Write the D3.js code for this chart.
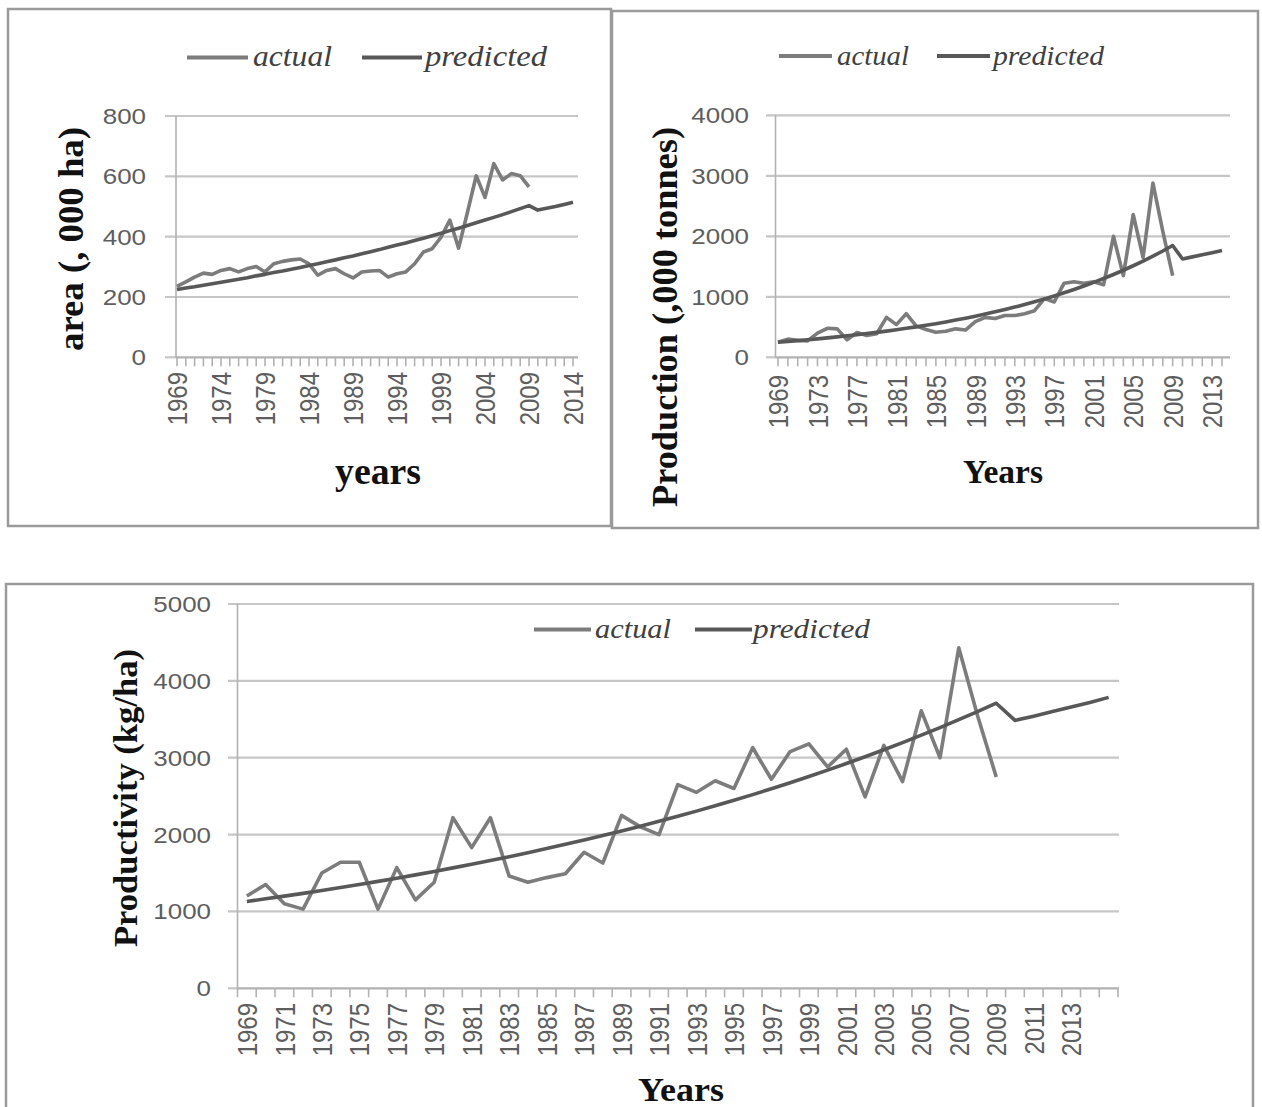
<!DOCTYPE html>
<html>
<head>
<meta charset="utf-8">
<script src="https://cdn.jsdelivr.net/npm/d3@7"></script>
<style>
  body { margin: 0; background: #fff; }
  svg { display: block; }
</style>
</head>
<body>
<svg id="chart" width="1262" height="1107"></svg>
<script>
/* === Area / production / productivity: actual vs predicted === */

const SANS = '"Liberation Sans", Arial, sans-serif';
const SERIF = '"Liberation Serif", "Times New Roman", serif';
const STRETCH = 1.18; // the source figure is widened a little

// categories
const YEARS = [1969, 1970, 1971, 1972, 1973, 1974, 1975, 1976, 1977, 1978,
  1979, 1980, 1981, 1982, 1983, 1984, 1985, 1986, 1987, 1988,
  1989, 1990, 1991, 1992, 1993, 1994, 1995, 1996, 1997, 1998,
  1999, 2000, 2001, 2002, 2003, 2004, 2005, 2006, 2007, 2008,
  2009, 2010, 2011, 2012, 2013, 2014];
const YEARS_LONG = YEARS.concat([2015]);

// tick labels
const AREA_TICKS_X = [1969, 1974, 1979, 1984, 1989, 1994, 1999, 2004, 2009, 2014];
const AREA_TICKS_Y = [0, 200, 400, 600, 800];
const PROD_TICKS_X = [1969, 1973, 1977, 1981, 1985, 1989, 1993, 1997, 2001, 2005, 2009, 2013];
const PROD_TICKS_Y = [0, 1000, 2000, 3000, 4000];
const YIELD_TICKS_X = [1969, 1971, 1973, 1975, 1977, 1979, 1981, 1983, 1985, 1987, 1989, 1991,
  1993, 1995, 1997, 1999, 2001, 2003, 2005, 2007, 2009, 2011, 2013];
const YIELD_TICKS_Y = [0, 1000, 2000, 3000, 4000, 5000];

// area, '000 ha (actual 1969-2009, predicted 1969-2014)
const AREA_ACTUAL = [235, 250, 266, 279, 275, 288, 294, 283, 294, 301,
  283, 310, 318, 323, 326, 310, 272, 288, 294, 277,
  263, 283, 286, 288, 266, 277, 283, 310, 349, 360,
  398, 455, 362, 480, 602, 530, 642, 588, 609, 602, 565];
const AREA_PRED = [225, 230, 234, 239, 244, 249, 254, 259, 264, 270,
  275, 281, 286, 292, 298, 304, 310, 317, 323, 330,
  336, 343, 350, 357, 365, 372, 379, 387, 395, 403,
  411, 420, 428, 437, 446, 455, 464, 473, 483, 493,
  503, 488, 494, 500, 507, 514];

// production, '000 tonnes
const PROD_ACTUAL = [250, 300, 280, 270, 400, 480, 470, 290, 410, 360,
  390, 660, 540, 720, 520, 460, 415, 430, 470, 450,
  590, 660, 640, 690, 690, 720, 770, 970, 915, 1225,
  1250, 1225, 1250, 1200, 2000, 1350, 2360, 1650, 2880, 2080, 1350];
const PROD_PRED = [250, 263, 276, 290, 305, 321, 337, 355, 373, 392,
  412, 433, 456, 479, 503, 529, 556, 585, 615, 647,
  680, 714, 751, 790, 830, 873, 917, 964, 1014, 1066,
  1120, 1178, 1238, 1302, 1369, 1439, 1513, 1590, 1672, 1757,
  1848, 1625, 1660, 1695, 1730, 1765];

// productivity, kg/ha (predicted runs to 2015)
const YIELD_ACTUAL = [1200, 1350, 1100, 1030, 1500, 1640, 1640, 1030, 1570, 1150,
  1380, 2220, 1830, 2220, 1460, 1380, 1440, 1490, 1770, 1630,
  2250, 2100, 2000, 2650, 2550, 2700, 2600, 3130, 2720, 3080,
  3180, 2880, 3110, 2490, 3160, 2690, 3610, 3000, 4430, 3550, 2750];
const YIELD_PRED = [1130, 1164, 1199, 1235, 1273, 1311, 1351, 1391, 1433, 1476,
  1521, 1567, 1614, 1663, 1713, 1765, 1818, 1873, 1929, 1987,
  2047, 2109, 2172, 2238, 2305, 2375, 2447, 2520, 2596, 2675,
  2755, 2838, 2924, 3012, 3103, 3197, 3293, 3392, 3495, 3600,
  3709, 3485, 3540, 3600, 3660, 3720, 3785];

const ACTUAL_COLOR = "#7c7c7c";
const PRED_COLOR = "#585858";

const svg = d3.select("#chart");

function drawPanel(p) {
  const g = svg.append("g");

  // frame
  g.append("rect")
    .attr("x", p.frame[0]).attr("y", p.frame[1])
    .attr("width", p.frame[2] - p.frame[0])
    .attr("height", p.frame[3] - p.frame[1])
    .attr("fill", "#fff")
    .attr("stroke", "#9a9a9a")
    .attr("stroke-width", 2.5);

  const x = d3.scalePoint().domain(p.years).range(p.xRange).padding(p.padding);
  const y = d3.scaleLinear().domain([0, p.yMax]).range([p.y0, p.yTop]);

  // gridlines + outer y ticks
  g.append("g").selectAll("line")
    .data(p.yTicks)
    .join("line")
      .attr("x1", p.gridLeft).attr("x2", d => d === 0 ? p.axisX : p.gridRight)
      .attr("y1", d => y(d)).attr("y2", d => y(d))
      .attr("stroke", "#c6c6c6")
      .attr("stroke-width", 2.2);

  // axes
  g.append("line")
    .attr("x1", p.axisX).attr("x2", p.axisX)
    .attr("y1", y(0)).attr("y2", y(p.yMax))
    .attr("stroke", "#b2b2b2").attr("stroke-width", 1.6);
  g.append("line")
    .attr("x1", p.axisX).attr("x2", p.gridRight)
    .attr("y1", y(0)).attr("y2", y(0))
    .attr("stroke", "#b2b2b2").attr("stroke-width", 2.2);

  // category tick marks
  const step = x.step();
  const tickPos = p.padding
    ? p.years.map(d => x(d) - step / 2).concat([x(p.years[p.years.length - 1]) + step / 2])
    : p.years.map(d => x(d));
  g.append("g").selectAll("line")
    .data(tickPos)
    .join("line")
      .attr("x1", d => d).attr("x2", d => d)
      .attr("y1", y(0)).attr("y2", y(0) + 9)
      .attr("stroke", "#b2b2b2")
      .attr("stroke-width", 1.6);

  // y tick labels
  g.append("g").selectAll("text")
    .data(p.yTicks)
    .join("text")
      .attr("transform", d => `translate(${p.yLabelRight},${y(d)}) scale(${STRETCH},1)`)
      .attr("dy", "0.36em")
      .attr("text-anchor", "end")
      .style("font-family", SANS)
      .style("font-size", p.tickFont + "px")
      .attr("fill", "#5e5e5e")
      .text(d => d);

  // x tick labels (rotated)
  g.append("g").selectAll("text")
    .data(p.xTicks)
    .join("text")
      .attr("transform", d => `translate(${x(d)},${p.xLabelTop}) scale(${STRETCH},1) rotate(-90)`)
      .attr("dy", "0.36em")
      .attr("text-anchor", "end")
      .style("font-family", SANS)
      .style("font-size", p.xTickFont + "px")
      .attr("fill", "#5e5e5e")
      .text(d => d);

  // series: actual first, predicted on top
  const line = d3.line()
    .x((d, i) => x(p.years[i]))
    .y(d => y(d));

  g.append("path")
    .datum(p.actual)
    .attr("d", line)
    .attr("fill", "none")
    .attr("stroke", ACTUAL_COLOR)
    .attr("stroke-width", 3.6)
    .attr("stroke-linejoin", "round");

  g.append("path")
    .datum(p.predicted)
    .attr("d", line)
    .attr("fill", "none")
    .attr("stroke", PRED_COLOR)
    .attr("stroke-width", 3.6)
    .attr("stroke-linejoin", "round");

  // axis titles
  g.append("text")
    .attr("transform", `translate(${p.yTitle.x},${p.yTitle.y}) rotate(-90)`)
    .attr("text-anchor", "middle")
    .attr("textLength", p.yTitle.len)
    .attr("lengthAdjust", "spacingAndGlyphs")
    .style("font-family", SERIF)
    .style("font-weight", "bold")
    .style("font-size", p.yTitle.size + "px")
    .attr("fill", "#111")
    .text(p.yTitle.text);

  g.append("text")
    .attr("x", p.xTitle.x).attr("y", p.xTitle.y)
    .attr("text-anchor", "middle")
    .attr("textLength", p.xTitle.len)
    .attr("lengthAdjust", "spacingAndGlyphs")
    .style("font-family", SERIF)
    .style("font-weight", "bold")
    .style("font-size", p.xTitle.size + "px")
    .attr("fill", "#111")
    .text(p.xTitle.text);

  // legend
  const items = [
    { name: "actual", color: ACTUAL_COLOR, spec: p.legend.actual },
    { name: "predicted", color: PRED_COLOR, spec: p.legend.predicted }
  ];
  items.forEach(it => {
    g.append("line")
      .attr("x1", it.spec[0]).attr("x2", it.spec[1])
      .attr("y1", p.legend.lineY).attr("y2", p.legend.lineY)
      .attr("stroke", it.color)
      .attr("stroke-width", 4);
    g.append("text")
      .attr("x", it.spec[2]).attr("y", p.legend.baseY)
      .attr("textLength", it.spec[3])
      .attr("lengthAdjust", "spacingAndGlyphs")
      .style("font-family", SERIF)
      .style("font-style", "italic")
      .style("font-size", p.legend.size + "px")
      .attr("fill", "#404040")
      .text(it.name);
  });
}

// --- Area ---
drawPanel({
  frame: [8, 9, 611, 526],
  years: YEARS, padding: 0,
  xRange: [177, 573],
  yMax: 800, y0: 357.3, yTop: 116,
  axisX: 176, gridLeft: 165, gridRight: 578,
  yTicks: AREA_TICKS_Y, xTicks: AREA_TICKS_X,
  yLabelRight: 146, xLabelTop: 372,
  tickFont: 22, xTickFont: 24,
  actual: AREA_ACTUAL, predicted: AREA_PRED,
  yTitle: { text: "area (, 000 ha)", x: 83, y: 239, size: 36, len: 224 },
  xTitle: { text: "years", x: 378, y: 484, size: 37, len: 86 },
  legend: { lineY: 57.5, baseY: 66, size: 29,
    actual: [187, 248, 253, 79], predicted: [362, 422, 425, 122] }
});

// --- Production ---
drawPanel({
  frame: [612, 11, 1258, 528],
  years: YEARS, padding: 0,
  xRange: [778, 1222],
  yMax: 4000, y0: 357.3, yTop: 115.3,
  axisX: 775.5, gridLeft: 766, gridRight: 1230,
  yTicks: PROD_TICKS_Y, xTicks: PROD_TICKS_X,
  yLabelRight: 749, xLabelTop: 375,
  tickFont: 22, xTickFont: 24,
  actual: PROD_ACTUAL, predicted: PROD_PRED,
  yTitle: { text: "Production (,000 tonnes)", x: 677, y: 317, size: 35, len: 380 },
  xTitle: { text: "Years", x: 1003, y: 483, size: 34, len: 80 },
  legend: { lineY: 56, baseY: 65, size: 28,
    actual: [779, 832, 837, 72], predicted: [937, 990, 993, 111] }
});

// --- Productivity ---
drawPanel({
  frame: [6, 584, 1253, 1120],
  years: YEARS_LONG, padding: 0.5,
  xRange: [237.5, 1118],
  yMax: 5000, y0: 988.3, yTop: 604,
  axisX: 237.5, gridLeft: 228, gridRight: 1119,
  yTicks: YIELD_TICKS_Y, xTicks: YIELD_TICKS_X,
  yLabelRight: 211, xLabelTop: 1003,
  tickFont: 22, xTickFont: 24,
  actual: YIELD_ACTUAL, predicted: YIELD_PRED,
  yTitle: { text: "Productivity (kg/ha)", x: 137, y: 798, size: 34, len: 298 },
  xTitle: { text: "Years", x: 681, y: 1101, size: 34, len: 86 },
  legend: { lineY: 629.5, baseY: 638, size: 28,
    actual: [534, 591, 595, 76], predicted: [695, 752, 753, 117] }
});
</script>
</body>
</html>
